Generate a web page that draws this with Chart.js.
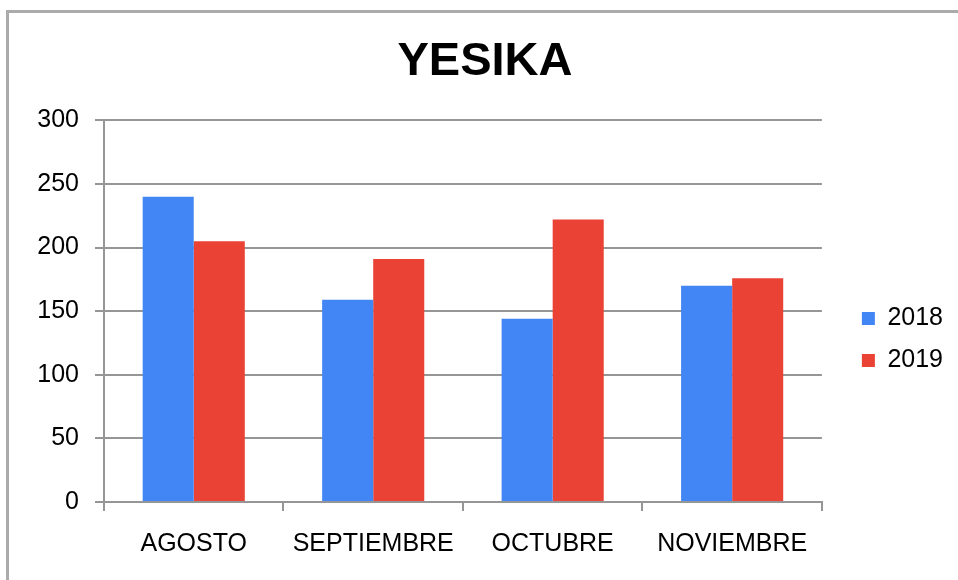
<!DOCTYPE html>
<html>
<head>
<meta charset="utf-8">
<script src="https://cdn.jsdelivr.net/npm/chart.js@4/dist/chart.umd.min.js"></script>
<style>
  html, body { margin: 0; padding: 0; background: #fff; }
  #wrap { position: relative; width: 958px; height: 580px; overflow: hidden; }
  #frame { position: absolute; left: 6px; top: 10px; width: 2000px; height: 2000px;
           border-top: 3px solid #ababab; border-left: 3px solid #ababab; pointer-events: none; }
  canvas { position: absolute; left: 0; top: 0; }
</style>
</head>
<body>
<div id="wrap">
  <canvas id="c" width="958" height="580"></canvas>
  <div id="frame"></div>
</div>
<script>
const categories = ['AGOSTO', 'SEPTIEMBRE', 'OCTUBRE', 'NOVIEMBRE'];
const seriesNames = ['2018', '2019'];
const values2018 = [240, 159, 144, 170];
const values2019 = [205, 191, 222, 176];
const yTicks = [0, 50, 100, 150, 200, 250, 300];

const FONT = "'Liberation Sans', Arial, sans-serif";
const GRID = '#969696';

new Chart(document.getElementById('c'), {
  type: 'bar',
  data: {
    labels: categories,
    datasets: [
      { label: seriesNames[0], data: values2018, backgroundColor: '#4285F4', borderWidth: 0,
        categoryPercentage: 0.569, barPercentage: 1.0 },
      { label: seriesNames[1], data: values2019, backgroundColor: '#EA4335', borderWidth: 0,
        categoryPercentage: 0.569, barPercentage: 1.0 }
    ]
  },
  options: {
    responsive: false,
    animation: false,
    devicePixelRatio: 1,
    layout: { padding: { left: 17, right: 5, top: 0, bottom: 3 } },
    plugins: {
      title: {
        display: true,
        text: 'YESIKA',
        color: '#000',
        font: { family: FONT, size: 47, weight: 'bold', lineHeight: 1.2 },
        padding: { top: 34, bottom: 30 }
      },
      legend: {
        position: 'right',
        align: 'center',
        title: { display: true, text: ' ', font: { size: 10, lineHeight: 1 }, padding: { top: 92, bottom: 0 } },
        labels: {
          color: '#000',
          font: { family: FONT, size: 25 },
          boxWidth: 13,
          boxHeight: 13,
          padding: 17
        }
      },
      tooltip: { enabled: false }
    },
    scales: {
      x: {
        grid: { display: true, drawOnChartArea: false, drawTicks: true, tickLength: 9, color: GRID, lineWidth: 2, offset: true },
        border: { display: true, color: GRID, width: 2 },
        ticks: { color: '#000', font: { family: FONT, size: 25 }, padding: 18, maxRotation: 0, autoSkip: false }
      },
      y: {
        min: 0,
        max: 300,
        afterBuildTicks: (s) => { s.ticks = yTicks.map(v => ({ value: v })); },
        afterFit: (s) => { s.width = 87; },
        grid: { color: GRID, lineWidth: 2, drawTicks: true, tickLength: 9 },
        border: { display: true, color: GRID, width: 2 },
        ticks: { color: '#000', font: { family: FONT, size: 25 }, padding: 16 }
      },
      y2: {
        type: 'linear',
        position: 'right',
        display: true,
        grid: { display: false, drawTicks: false },
        border: { display: false },
        ticks: { display: false },
        afterFit: (s) => { s.width = 23; }
      }
    }
  }
});
</script>
</body>
</html>
